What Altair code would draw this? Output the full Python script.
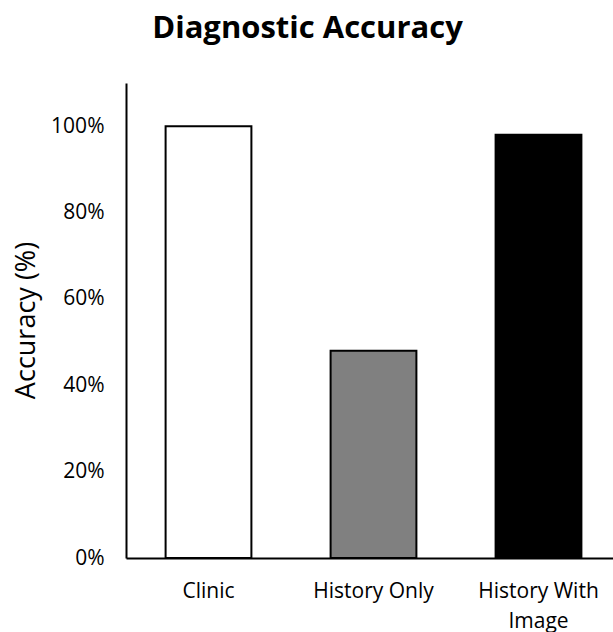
import altair as alt
import pandas as pd

# Diagnostic accuracy by assessment setting
categories = ["Clinic", "History Only", "History With Image"]
accuracy = [1.00, 0.48, 0.98]
fills = ["#ffffff", "#808080", "#000000"]

df = pd.DataFrame({"setting": categories, "accuracy": accuracy, "fill": fills})

FONT = "Open Sans"

bars = alt.Chart(df).mark_bar(stroke="black", strokeWidth=2).encode(
    x=alt.X(
        "setting:N",
        sort=categories,
        scale=alt.Scale(range=[0, 495], paddingInner=0.48, paddingOuter=0.24),
        axis=alt.Axis(
            title=None,
            labelAngle=0,
            ticks=False,
            grid=False,
            labelPadding=22,
            labelFontSize=21,
            labelFont=FONT,
            labelColor="black",
            labelLineHeight=30,
            labelExpr="datum.label == 'History With Image' ? ['History With', 'Image'] : datum.label",
            domainColor="black",
            domainWidth=2,
        ),
    ),
    y=alt.Y(
        "accuracy:Q",
        scale=alt.Scale(domain=[0, 1.1], nice=False),
        axis=alt.Axis(
            title="Accuracy (%)",
            values=[0, 0.2, 0.4, 0.6, 0.8, 1.0],
            format=".0%",
            grid=False,
            ticks=False,
            labelPadding=22,
            labelFontSize=21,
            labelFont=FONT,
            labelColor="black",
            titleFont=FONT,
            titleFontSize=27,
            titleFontWeight="normal",
            titleColor="black",
            titleX=-100,
            titleY=237,
            titleAngle=-90,
            titleAlign="center",
            titleBaseline="middle",
            domainColor="black",
            domainWidth=2,
        ),
    ),
    fill=alt.Fill("fill:N", scale=None),
)

chart = bars.properties(
    width=487,
    height=475,
    background="white",
    title=alt.TitleParams(
        text="Diagnostic Accuracy",
        font=FONT,
        fontSize=31,
        fontWeight="bold",
        color="black",
        anchor="middle",
        dx=-62,
        offset=38,
    ),
    autosize=alt.AutoSizeParams(type="none"),
    padding={"left": 126, "top": 83, "right": 0, "bottom": 74},
).configure_view(stroke=None, strokeWidth=0)

chart.save("out.html", embed_options={"renderer": "svg", "actions": False})
